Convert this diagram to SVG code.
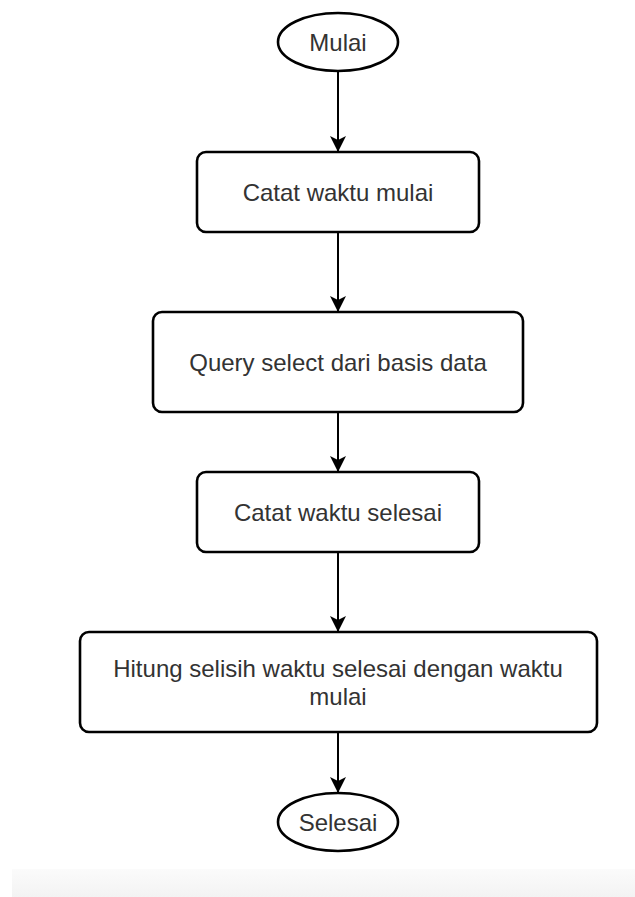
<svg xmlns="http://www.w3.org/2000/svg" width="635" height="897" viewBox="0 0 635 897">
  <style>
    .shape { fill: #ffffff; stroke: #000000; stroke-width: 2.6; }
    .label { font-family: "Liberation Sans", Arial, sans-serif; font-size: 24px; fill: #333333; text-anchor: middle; }
    .conn { stroke: #000000; stroke-width: 2; fill: none; marker-end: url(#arrow); }
  </style>
  <defs>
    <marker id="arrow" markerUnits="userSpaceOnUse" markerWidth="18" markerHeight="18" refX="16" refY="8" orient="auto">
      <path d="M0,0 L16,8 L0,16 L4,8 Z" fill="#000000" stroke="none"/>
    </marker>
    <linearGradient id="band" x1="0" y1="0" x2="0" y2="1">
      <stop offset="0" stop-color="#fbfbfb"/>
      <stop offset="1" stop-color="#f3f3f3"/>
    </linearGradient>
  </defs>
  <rect x="0" y="0" width="635" height="897" fill="#ffffff"/>
  <rect x="12" y="869" width="623" height="28" fill="url(#band)"/>

  <g id="connectors">
    <line class="conn" x1="338" y1="71" x2="338" y2="152"/>
    <line class="conn" x1="338" y1="232" x2="338" y2="312"/>
    <line class="conn" x1="338" y1="412" x2="338" y2="472"/>
    <line class="conn" x1="338" y1="552" x2="338" y2="632"/>
    <line class="conn" x1="338" y1="732" x2="338" y2="793"/>
  </g>

  <g id="mulai">
    <ellipse class="shape" cx="338" cy="42" rx="60" ry="29"/>
    <text class="label" x="338" y="51">Mulai</text>
  </g>
  <g id="catat-mulai">
    <rect class="shape" x="197" y="152" width="282" height="80" rx="9"/>
    <text class="label" x="338" y="200.5">Catat waktu mulai</text>
  </g>
  <g id="query">
    <rect class="shape" x="153" y="312" width="370" height="100" rx="9"/>
    <text class="label" x="338" y="370.5">Query select dari basis data</text>
  </g>
  <g id="catat-selesai">
    <rect class="shape" x="197" y="472" width="282" height="80" rx="9"/>
    <text class="label" x="338" y="520.5">Catat waktu selesai</text>
  </g>
  <g id="hitung">
    <rect class="shape" x="80" y="632" width="517" height="100" rx="9"/>
    <text class="label" x="338" y="676.5">Hitung selisih waktu selesai dengan waktu</text>
    <text class="label" x="338" y="704.5">mulai</text>
  </g>
  <g id="selesai">
    <ellipse class="shape" cx="338" cy="822" rx="60" ry="29"/>
    <text class="label" x="338" y="830.5">Selesai</text>
  </g>
</svg>
